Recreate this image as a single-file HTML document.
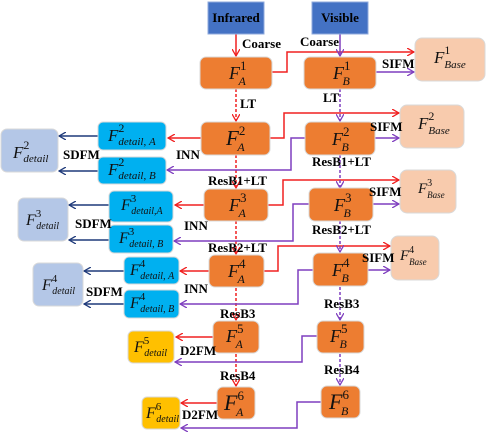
<!DOCTYPE html>
<html><head><meta charset="utf-8"><style>
html,body{margin:0;padding:0;background:#fff;}
svg{display:block;}
.l{font-family:"Liberation Serif",serif;font-weight:bold;font-size:13px;fill:#000;}
.f{font-family:"Liberation Serif",serif;font-style:italic;fill:#111;}
</style></head><body>
<svg width="487" height="436" viewBox="0 0 487 436" xmlns="http://www.w3.org/2000/svg">
<defs>
<marker id="ar" markerWidth="8" markerHeight="8" refX="7" refY="4" orient="auto" markerUnits="userSpaceOnUse"><path d="M0,0 L7,4 L0,8" fill="none" stroke="#f02020" stroke-width="1.3"/></marker>
<marker id="ap" markerWidth="8" markerHeight="8" refX="7" refY="4" orient="auto" markerUnits="userSpaceOnUse"><path d="M0,0 L7,4 L0,8" fill="none" stroke="#7f3fbf" stroke-width="1.3"/></marker>
<marker id="ab" markerWidth="8" markerHeight="8" refX="7" refY="4" orient="auto" markerUnits="userSpaceOnUse"><path d="M0,0 L7,4 L0,8" fill="none" stroke="#1f3a7a" stroke-width="1.3"/></marker>
</defs>
<g fill="none" stroke-width="1.5">
<g stroke="#f02020">
<path d="M236 34 V56" marker-end="url(#ar)"/>
<path d="M272 72 H287 V52 H414" marker-end="url(#ar)"/>
<path d="M270 138 H284 V113 H399" marker-end="url(#ar)"/>
<path d="M201 138 H168" marker-end="url(#ar)"/>
<path d="M268 205 H283 V180 H399" marker-end="url(#ar)"/>
<path d="M204 205 H175" marker-end="url(#ar)"/>
<path d="M264 271 H278 V246 H390" marker-end="url(#ar)"/>
<path d="M209 271 H180" marker-end="url(#ar)"/>
<path d="M213 337 H176" marker-end="url(#ar)"/>
<path d="M217 403 H181" marker-end="url(#ar)"/>
</g>
<g stroke="#f02020" stroke-dasharray="3,2">
<path d="M236 89 V121" marker-end="url(#ar)"/>
<path d="M236 155 V188" marker-end="url(#ar)"/>
<path d="M236 221 V254" marker-end="url(#ar)"/>
<path d="M236 288 V320" marker-end="url(#ar)"/>
<path d="M236 354 V386" marker-end="url(#ar)"/>
</g>
<g stroke="#7f3fbf">
<path d="M340 34 V56" marker-end="url(#ap)"/>
<path d="M376 72 H414" marker-end="url(#ap)"/>
<path d="M375 138 H399" marker-end="url(#ap)"/>
<path d="M305 138 H291 V170 H167" marker-end="url(#ap)"/>
<path d="M373 204 H399" marker-end="url(#ap)"/>
<path d="M309 204 H293 V241 H174" marker-end="url(#ap)"/>
<path d="M368 270 H390" marker-end="url(#ap)"/>
<path d="M313 270 H298 V304 H180" marker-end="url(#ap)"/>
<path d="M317 336 H302 V362 H175" marker-end="url(#ap)"/>
<path d="M321 402 H297 V428 H181" marker-end="url(#ap)"/>
</g>
<g stroke="#7f3fbf" stroke-dasharray="3,2">
<path d="M340 89 V121" marker-end="url(#ap)"/>
<path d="M340 155 V188" marker-end="url(#ap)"/>
<path d="M340 221 V252" marker-end="url(#ap)"/>
<path d="M340 287 V320" marker-end="url(#ap)"/>
<path d="M340 354 V385" marker-end="url(#ap)"/>
</g>
<g stroke="#1f3a7a">
<path d="M98 136 H59" marker-end="url(#ab)"/>
<path d="M98 171 H59" marker-end="url(#ab)"/>
<path d="M109 205 H69" marker-end="url(#ab)"/>
<path d="M109 240 H69" marker-end="url(#ab)"/>
<path d="M124 271 H84" marker-end="url(#ab)"/>
<path d="M124 304 H84" marker-end="url(#ab)"/>
</g>
</g>

<rect x="208" y="2" width="56" height="32" fill="#4472c4" stroke="#8faadc"/>
<rect x="312" y="2" width="56" height="32" fill="#4472c4" stroke="#8faadc"/>
<text class="l" x="236" y="22" text-anchor="middle" fill="#111">Infrared</text>
<text class="l" x="340" y="22" text-anchor="middle">Visible</text>

<g stroke="#d9d9d9" stroke-width="1">
<rect x="200" y="57" width="72" height="32" rx="6" fill="#ed7d31"/>
<rect x="304" y="57" width="72" height="32" rx="6" fill="#ed7d31"/>
<rect x="415" y="38" width="70" height="43" rx="7" fill="#f8cbad"/>
<rect x="201" y="122" width="69" height="33" rx="6" fill="#ed7d31"/>
<rect x="305" y="122" width="70" height="33" rx="6" fill="#ed7d31"/>
<rect x="400" y="105" width="64" height="43" rx="7" fill="#f8cbad"/>
<rect x="98" y="122" width="68" height="28" rx="5" fill="#00b0f0"/>
<rect x="98" y="157" width="68" height="27" rx="5" fill="#00b0f0"/>
<rect x="1" y="129" width="57" height="43" rx="6" fill="#b4c7e7"/>
<rect x="204" y="189" width="64" height="32" rx="6" fill="#ed7d31"/>
<rect x="309" y="188" width="64" height="33" rx="6" fill="#ed7d31"/>
<rect x="400" y="170" width="56" height="43" rx="7" fill="#f8cbad"/>
<rect x="109" y="191" width="64" height="31" rx="5" fill="#00b0f0"/>
<rect x="109" y="225" width="64" height="28" rx="5" fill="#00b0f0"/>
<rect x="18" y="198" width="50" height="43" rx="6" fill="#b4c7e7"/>
<rect x="209" y="255" width="55" height="32" rx="6" fill="#ed7d31"/>
<rect x="313" y="253" width="55" height="33" rx="6" fill="#ed7d31"/>
<rect x="391" y="236" width="48" height="44" rx="7" fill="#f8cbad"/>
<rect x="124" y="257" width="55" height="27" rx="5" fill="#00b0f0"/>
<rect x="124" y="290" width="55" height="28" rx="5" fill="#00b0f0"/>
<rect x="33" y="263" width="50" height="43" rx="6" fill="#b4c7e7"/>
<rect x="213" y="321" width="46" height="32" rx="6" fill="#ed7d31"/>
<rect x="317" y="321" width="47" height="32" rx="6" fill="#ed7d31"/>
<rect x="128" y="331" width="46" height="32" rx="5" fill="#ffc000"/>
<rect x="217" y="387" width="38" height="32" rx="6" fill="#ed7d31"/>
<rect x="321" y="386" width="39" height="32" rx="6" fill="#ed7d31"/>
<rect x="142" y="397" width="38" height="32" rx="5" fill="#ffc000"/>
</g>

<g class="f">
<text x="229" y="79" font-size="18">F<tspan dy="-9" font-size="13" font-style="normal">1</tspan><tspan dx="-8" dy="15" font-size="12">A</tspan></text>
<text x="333" y="79" font-size="18">F<tspan dy="-9" font-size="13" font-style="normal">1</tspan><tspan dx="-8" dy="15" font-size="12">B</tspan></text>
<text x="434" y="63" font-size="17">F<tspan dy="-9" font-size="12" font-style="normal">1</tspan><tspan dx="-6" dy="14" font-size="11">Base</tspan></text>
<text x="226" y="145" font-size="21">F<tspan dy="-10" font-size="13" font-style="normal">2</tspan><tspan dx="-8" dy="16" font-size="12">A</tspan></text>
<text x="332" y="145" font-size="18">F<tspan dy="-9" font-size="13" font-style="normal">2</tspan><tspan dx="-8" dy="15" font-size="12">B</tspan></text>
<text x="418" y="129" font-size="17">F<tspan dy="-9" font-size="12" font-style="normal">2</tspan><tspan dx="-6" dy="14" font-size="11">Base</tspan></text>
<text x="108" y="141" font-size="17">F<tspan dy="-9" font-size="12" font-style="normal">2</tspan><tspan dx="-6" dy="13" font-size="11">detail<tspan font-style="normal">, </tspan>A</tspan></text>
<text x="108" y="175" font-size="17">F<tspan dy="-9" font-size="12" font-style="normal">2</tspan><tspan dx="-6" dy="13" font-size="11">detail<tspan font-style="normal">, </tspan>B</tspan></text>
<text x="13" y="158" font-size="17">F<tspan dy="-9" font-size="12" font-style="normal">2</tspan><tspan dx="-6" dy="13" font-size="11">detail</tspan></text>
<text x="229" y="211" font-size="18">F<tspan dy="-9" font-size="13" font-style="normal">3</tspan><tspan dx="-8" dy="15" font-size="12">A</tspan></text>
<text x="334" y="211" font-size="18">F<tspan dy="-9" font-size="13" font-style="normal">3</tspan><tspan dx="-8" dy="15" font-size="12">B</tspan></text>
<text x="418" y="193" font-size="15">F<tspan dy="-7" font-size="10" font-style="normal">3</tspan><tspan dx="-5" dy="12" font-size="9">Base</tspan></text>
<text x="121" y="210" font-size="16">F<tspan dy="-8" font-size="11" font-style="normal">3</tspan><tspan dx="-5" dy="12" font-size="10">detail,A</tspan></text>
<text x="119" y="243" font-size="16">F<tspan dy="-8" font-size="11" font-style="normal">3</tspan><tspan dx="-5" dy="12" font-size="10">detail<tspan font-style="normal">, </tspan>B</tspan></text>
<text x="26" y="225" font-size="16">F<tspan dy="-8" font-size="11" font-style="normal">3</tspan><tspan dx="-5" dy="12" font-size="10">detail</tspan></text>
<text x="228" y="277" font-size="18">F<tspan dy="-9" font-size="13" font-style="normal">4</tspan><tspan dx="-8" dy="15" font-size="12">A</tspan></text>
<text x="332" y="276" font-size="18">F<tspan dy="-9" font-size="13" font-style="normal">4</tspan><tspan dx="-8" dy="15" font-size="12">B</tspan></text>
<text x="400" y="260" font-size="15">F<tspan dy="-7" font-size="10" font-style="normal">4</tspan><tspan dx="-5" dy="12" font-size="9">Base</tspan></text>
<text x="130" y="275" font-size="16">F<tspan dy="-8" font-size="11" font-style="normal">4</tspan><tspan dx="-5" dy="12" font-size="10">detail<tspan font-style="normal">, </tspan>A</tspan></text>
<text x="130" y="308" font-size="16">F<tspan dy="-8" font-size="11" font-style="normal">4</tspan><tspan dx="-5" dy="12" font-size="10">detail<tspan font-style="normal">, </tspan>B</tspan></text>
<text x="42" y="290" font-size="16">F<tspan dy="-8" font-size="11" font-style="normal">4</tspan><tspan dx="-5" dy="12" font-size="10">detail</tspan></text>
<text x="226" y="342" font-size="18">F<tspan dy="-9" font-size="13" font-style="normal">5</tspan><tspan dx="-8" dy="15" font-size="12">A</tspan></text>
<text x="330" y="342" font-size="18">F<tspan dy="-9" font-size="13" font-style="normal">5</tspan><tspan dx="-8" dy="15" font-size="12">B</tspan></text>
<text x="134" y="352" font-size="16">F<tspan dy="-8" font-size="11" font-style="normal">5</tspan><tspan dx="-5" dy="12" font-size="10">detail</tspan></text>
<text x="224" y="410" font-size="22">F<tspan dy="-10" font-size="13" font-style="normal">6</tspan><tspan dx="-8" dy="16" font-size="12">A</tspan></text>
<text x="329" y="409" font-size="22">F<tspan dy="-10" font-size="13" font-style="normal">6</tspan><tspan dx="-8" dy="16" font-size="12">B</tspan></text>
<text x="146" y="418" font-size="16">F<tspan dy="-8" font-size="11" font-style="normal">6</tspan><tspan dx="-5" dy="12" font-size="10">detail</tspan></text>
</g>

<g class="l">
<text x="242" y="48">Coarse</text>
<text x="300" y="46">Coarse</text>
<text x="382" y="68">SIFM</text>
<text x="240" y="108">LT</text>
<text x="323" y="102">LT</text>
<text x="370" y="131">SIFM</text>
<text x="176" y="159">INN</text>
<text x="63" y="159">SDFM</text>
<text x="312" y="166">ResB1+LT</text>
<text x="208" y="185">ResB1+LT</text>
<text x="369" y="196">SIFM</text>
<text x="184" y="230">INN</text>
<text x="75" y="228">SDFM</text>
<text x="312" y="234">ResB2+LT</text>
<text x="208" y="252">ResB2+LT</text>
<text x="362" y="262">SIFM</text>
<text x="184" y="293">INN</text>
<text x="86" y="296">SDFM</text>
<text x="324" y="308">ResB3</text>
<text x="220" y="318">ResB3</text>
<text x="180" y="355">D2FM</text>
<text x="324" y="374">ResB4</text>
<text x="220" y="380">ResB4</text>
<text x="182" y="419">D2FM</text>
</g>
</svg>
</body></html>
